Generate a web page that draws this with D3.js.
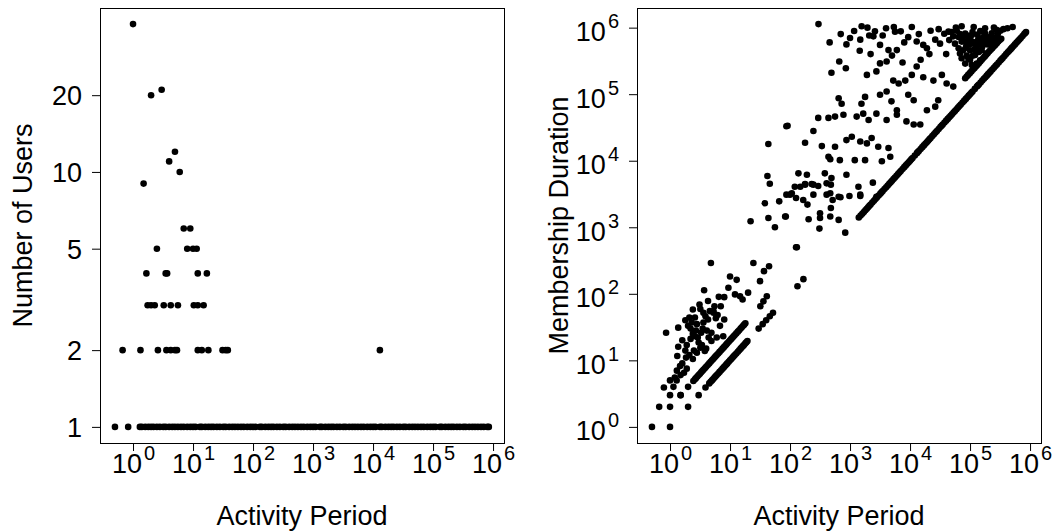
<!DOCTYPE html>
<html>
<head>
<meta charset="utf-8">
<script src="https://cdn.jsdelivr.net/npm/d3@7"></script>
<style>
  body { margin: 0; background: #fff; }
  text { font-family: "Liberation Sans", Arial, sans-serif; }
</style>
</head>
<body>
<div id="chart"></div>
<script>
// ---------- data ----------
// left panel: activity period -> number of users (users > 1)
var multiPeriods = [1, 2, 3, 5, 4, 6, 1.5,
  7, 9,
  2.5, 8, 10, 11.5,
  1.67, 3.5, 3.7, 12, 17,
  1.75, 2, 2.3, 3.25, 4.25, 5.6, 10.3, 12, 15,
  0.67, 1.33, 2.6, 3.6, 4.25, 5, 5.4, 12, 14, 18, 31, 35, 38, 13000];
var multiCounts = [38, 20, 21, 12, 11, 10, 9,
  6, 6,
  5, 5, 5, 5,
  4, 4, 4, 4, 4,
  3, 3, 3, 3, 3, 3, 3, 3, 3,
  2, 2, 2, 2, 2, 2, 2, 2, 2, 2, 2, 2, 2, 2];

// activity periods that had exactly one user
var singlePeriods = [0.5, 0.83,
  1.3, 1.4, 1.6, 1.8, 2, 2.2, 2.5, 2.8, 3.2, 3.5, 4, 4.5, 5, 5.6, 6.3, 7, 8, 9,
  10, 11, 13, 14, 16, 18, 20, 22, 25, 28, 32, 35, 40, 45, 50, 56, 63, 70, 80, 90,
  100, 110, 130, 140, 160, 180, 200, 220, 250, 280, 320, 350, 400, 450, 500, 560, 630, 700, 800, 900,
  1000, 1100, 1300, 1400, 1600, 1800, 2000, 2200, 2500, 2800, 3200, 3500, 4000, 4500, 5000, 5600, 6300, 7000, 8000, 9000,
  10000, 11000, 13000, 14000, 16000, 18000, 20000, 22000, 25000, 28000, 32000, 35000, 40000, 45000, 50000, 56000, 63000, 70000, 80000, 90000,
  100000, 110000, 130000, 140000, 160000, 180000, 200000, 220000, 250000, 280000, 320000, 350000, 400000, 450000, 500000, 560000, 630000, 700000, 800000, 850000];

var userTicks = [1, 2, 5, 10, 20];
var decadeTicks = [1, 10, 100, 1000, 10000, 100000, 1000000];

// right panel: [activity period, membership duration]
var lowerCluster = [[0.5,1],[1,1],[0.66,2],[1,2],[2,2],[0.86,26],[1,3],[1.5,3],[0.79,3.9],[1,5],[1.29,5],[1.14,4],
  [1.32,11.6],[1.37,16],[1.85,11],[1.47,8.2],[1.71,6.5],[1.37,31],[2,33],[2.6,23],[3,18.5],[3.2,15.5],[3.8,13.8],
  [3.1,69],[3.2,59],[3.6,52],[2.6,44],[2.1,44],[2.3,37],[2.8,35],[3.6,37],[4.3,41],[4.9,26],[3.7,113],[4.8,290],
  [4.3,78],[5.3,52],[5.3,55],[4.9,19.5],[6,22],[7.7,23],[6.8,33],[8,41],[8,89],[9.4,123],[10,182],[12.9,162],
  [12.1,98],[14.7,92],[16.2,82],[20,104],[24.5,290],[31.6,155],[36.8,219],[44.7,260],
  [1.6,20],[1.9,17],[2.2,21],[2.4,25],[2.7,28],[2.9,22],[3.3,26],[3.5,30],[2.5,14],[2.8,13],[3.4,17],[4,15],
  [1.8,14],[2.1,12],[2.4,10.5],[1.6,9],[1.9,7.5],[1.5,6],[1.3,7],[1.2,5.5],[2.2,30],[4.4,22],[4.1,28],[3.9,46],
  [4.6,55],[5.8,43],[6.2,48],[5.5,65],[6.5,90],[7,65],[1.8,40],[2.4,58]];

var middleCluster = [[22,1230],[38,2300],[66,2450],[85,1450],[43.6,1380],[56,1000],[130,500],[133,130],[167,166],[126,500],
  [43.5,17800],[42,5900],[46,4500],[91,33500],
  [120,4070],[178,4470],[229,4470],[295,4170],[407,4570],[479,4370],
  [87,3090],[107,3240],[126,2750],[166,2570],[195,2190],[245,3090],[407,3090],[513,2570],[692,2820],[977,2950],[1480,2950],[2400,4680],
  [83,1450],[204,1320],[316,1620],[316,1380],[468,1450],[646,1290],[832,830],[309,955],[479,1950],
  [138,6460],[191,6170],[245,4370],[380,6460],[490,5500],[871,6170],[1380,4070],[148,4070],[178,4370],
  [100,3090],[468,3240],[646,2880],[1480,3090],[2750,2880]];

var upperCluster = [[298,1130000],[1560,1050000],[1950,1000000],[1170,890000],[2090,760000],[2450,740000],
  [3980,980000],[5370,1020000],[5620,870000],[10700,1020000],[72400,1050000],[115000,1020000],[148000,890000],
  [178000,980000],[275000,930000],[513000,1020000],
  [457,600000],[871,560000],[1480,660000],[1450,450000],[3160,550000],[4370,460000],[6030,460000],
  [9330,720000],[12900,620000],[16600,550000],[19100,490000],[26300,660000],[31600,575000],[37200,810000],[43700,870000],[52500,740000],
  [661,310000],[851,245000],[490,210000],[1910,195000],[2750,220000],[3160,290000],[4070,310000],
  [5250,160000],[6460,145000],[8320,160000],[10700,195000],[12900,260000],[16600,180000],[24500,160000],[33900,195000],[40700,145000],[52500,130000],
  [646,87000],[724,72000],[1780,91000],[1550,72000],[3160,98000],[4070,110000],[4900,78000],[6030,57500],
  [9330,98000],[11500,81000],[19100,57500],[26300,65000],[29500,81000],
  [295,44000],[437,44000],[562,46000],[776,49000],[1290,46000],[1660,51000],
  [2040,41000],[2750,51000],[4070,41000],[6030,49000],[8710,39000],[11500,35000],[14800,35000],
  [87,33000],[245,28000],[178,18600],[339,16600],
  [562,16200],[871,20400],[1070,22900],[1480,19500],[1910,18200],[2290,21900],[2950,16200],[4370,15500],
  [437,11500],[468,10500],[676,10200],[1200,10200],[1780,10200],[3390,9800],[4680,11500],
  [64500,725000],[72400,617000],[83000,813000],[87600,550000],[93700,661000],[100000,457000],[107000,776000],
  [114000,575000],[121000,389000],[129000,513000],[138000,692000],[147000,324000],[156000,457000],[166000,617000],
  [178000,813000],[190000,407000],[72400,347000],[83000,288000],[67900,407000],[93700,347000],[107000,275000],
  [129000,288000],[147000,575000],[166000,725000],[204000,575000],[214000,725000],[245000,575000],[77000,457000],
  [64500,490000],[56200,575000],
  [60000,900000],[68000,800000],[75000,700000],[80000,620000],[85000,500000],[90000,760000],[97000,560000],
  [103000,640000],[110000,860000],[118000,470000],[125000,610000],[133000,790000],[140000,430000],[150000,660000],
  [160000,520000],[170000,880000],[185000,680000],[195000,560000],[225000,650000],[230000,820000],[260000,700000],
  [290000,800000],[320000,900000],[360000,950000],[420000,980000],[250000,1000000],[58000,1000000],[49000,860000],
  [45000,650000],[88000,380000],[100000,330000],[112000,380000],
  [700,800000],[1000,700000],[2600,880000],[3500,760000],[7000,880000],[8000,600000],[14000,800000],[22000,900000],
  [30000,950000],[2200,400000],[5000,380000],[7500,300000],[15000,330000],[21000,400000],[40000,400000]];

// points lying on duration = period
var equalLine = [[3,3],[3.9,3.9],[4.5,4.5],[4.75,4.75],[5,5],[5.25,5.25],[5.5,5.5],[5.75,5.75],[6,6],[6.35,6.35],
  [6.7,6.7],[7.1,7.1],[7.5,7.5],[7.9,7.9],[8.3,8.3],[8.65,8.65],[9,9],[9.5,9.5],[10,10],[10.5,10.5],[11,11],
  [11.5,11.5],[12,12],[12.7,12.7],[13.5,13.5],[14.2,14.2],[15,15],[15.7,15.7],[16.5,16.5],[17.2,17.2],[18,18],
  [18.7,18.7],[19.5,19.5],[30,30],[35,35],[40,40],[46,46],[52,52],
  [1400,1400],[1500,1500],[1600,1600],[1700,1700],[1800,1800],[1900,1900],[2000,2000],[2100,2100],[2200,2200],
  [2350,2350],[2500,2500],[2650,2650],[2800,2800],[3000,3000],[3200,3200],[3350,3350],[3500,3500],[3750,3750],
  [4000,4000],[4250,4250],[4500,4500],[4750,4750],[5000,5000],[5300,5300],[5600,5600],[5950,5950],[6300,6300],
  [6650,6650],[7000,7000],[7500,7500],[8000,8000],[8500,8500],[9000,9000],[9500,9500],
  [10000,10000],[10500,10500],[11000,11000],[12000,12000],[13000,13000],[13500,13500],[14000,14000],[15000,15000],
  [16000,16000],[17000,17000],[18000,18000],[19000,19000],[20000,20000],[21000,21000],[22000,22000],[23500,23500],
  [25000,25000],[26500,26500],[28000,28000],[30000,30000],[32000,32000],[33500,33500],[35000,35000],[37500,37500],
  [40000,40000],[42500,42500],[45000,45000],[47500,47500],[50000,50000],[53000,53000],[56000,56000],[59500,59500],
  [63000,63000],[66500,66500],[70000,70000],[75000,75000],[80000,80000],[85000,85000],[90000,90000],[95000,95000],
  [100000,100000],[105000,105000],[110000,110000],[120000,120000],[130000,130000],[135000,135000],[140000,140000],
  [150000,150000],[160000,160000],[170000,170000],[180000,180000],[190000,190000],[200000,200000],[210000,210000],
  [220000,220000],[235000,235000],[250000,250000],[265000,265000],[280000,280000],[300000,300000],[320000,320000],
  [335000,335000],[350000,350000],[375000,375000],[400000,400000],[425000,425000],[450000,450000],[475000,475000],
  [500000,500000],[530000,530000],[560000,560000],[595000,595000],[630000,630000],[665000,665000],[700000,700000],
  [750000,750000],[800000,800000],[830000,830000],[857000,857000]];

// points lying on duration = 2 x period
var doubleLine = [[1.5,3],[2,4],[2.45,4.9],[2.6,5.2],[2.7,5.4],[2.85,5.7],[3,6],[3.15,6.3],[3.3,6.6],[3.45,6.9],
  [3.6,7.2],[3.8,7.6],[4,8],[4.25,8.5],[4.5,9],[4.75,9.5],[5,10],[5.25,10.5],[5.5,11],[5.75,11.5],[6,12],
  [6.35,12.7],[6.7,13.4],[7.1,14.2],[7.5,15],[7.9,15.8],[8.3,16.6],[8.65,17.3],[9,18],[9.5,19],[10,20],[10.5,21],
  [11,22],[11.5,23],[12,24],[12.7,25.4],[13.5,27],[14.2,28.4],[15,30],[15.7,31.4],[16.5,33],[17.2,34.4],[18,36],
  [32,65],[36,77],[41,92],
  [83000,174000],[88000,184000],[93000,195000],[99000,207000],[105000,220000],[111000,232000],[118000,245000],
  [125000,260000],[132000,275000],[140000,292000],[148000,310000],[157000,330000],[166000,350000],[176000,370000],
  [186000,390000],[197000,415000],[209000,440000],[221000,465000],[234000,490000],[248000,520000],[263000,550000],
  [279000,585000],[295000,620000],[313000,650000],[331000,680000]];

// ---------- layout ----------
var W = 1054, H = 531;
var plotTop = 8, plotBottom = 443;
var panels = [{left: 100, right: 504}, {left: 637, right: 1041}];
var fontSize = 27;

var svg = d3.select("#chart").append("svg")
  .attr("width", W).attr("height", H);

// R style: log range padded by 4% each side
function rLogDomain(vals) {
  var e = d3.extent(vals);
  var a = Math.log10(e[0]), b = Math.log10(e[1]), pad = 0.04 * (b - a);
  return [Math.pow(10, a - pad), Math.pow(10, b + pad)];
}

var allRight = lowerCluster.concat(middleCluster, upperCluster, equalLine, doubleLine);
var xDomain = rLogDomain(multiPeriods.concat(singlePeriods, allRight.map(function(d) { return d[0]; })));

function styleAxis(g) {
  g.select(".domain").remove();
  g.selectAll(".tick line").attr("stroke", "#000");
  g.selectAll("text").attr("font-size", fontSize).attr("fill", "#000")
    .attr("font-family", "'Liberation Sans', Arial, sans-serif");
}

function powerLabels(g) {
  g.selectAll(".tick text").each(function(d) {
    var t = d3.select(this).text("");
    t.append("tspan").text("10");
    t.append("tspan").attr("font-size", 20).attr("dy", -13).attr("dx", 2)
      .text(Math.round(Math.log10(d)));
  });
}

function drawPanel(p, yScale, pts, yTicks, yPow, yTitle, titleX) {
  var x = d3.scaleLog().domain(xDomain).range([p.left, p.right]);
  var g = svg.append("g");

  // x axis
  var xa = g.append("g").attr("transform", "translate(0," + plotBottom + ")")
    .call(d3.axisBottom(x).tickValues(decadeTicks).tickSize(8).tickPadding(3).tickFormat(function() { return ""; }));
  styleAxis(xa);
  powerLabels(xa);

  // y axis
  var ya = g.append("g").attr("transform", "translate(" + p.left + ",0)")
    .call(d3.axisLeft(yScale).tickValues(yTicks).tickSize(8).tickPadding(10)
      .tickFormat(function(d) { return yPow ? "" : d; }));
  styleAxis(ya);
  if (yPow) {
    powerLabels(ya);
    ya.selectAll(".tick text").attr("dy", 13);
  } else {
    ya.selectAll(".tick text").attr("dy", "0.36em");
  }

  // points
  g.append("g").selectAll("circle").data(pts).enter().append("circle")
    .attr("cx", function(d) { return x(d[0]); })
    .attr("cy", function(d) { return yScale(d[1]); })
    .attr("r", 3.3)
    .attr("fill", "#000");

  // box
  g.append("rect")
    .attr("x", p.left + 0.5).attr("y", plotTop + 0.5)
    .attr("width", p.right - p.left).attr("height", plotBottom - plotTop)
    .attr("fill", "none").attr("stroke", "#000").attr("stroke-width", 1);

  // titles
  g.append("text")
    .attr("x", (p.left + p.right) / 2).attr("y", 525)
    .attr("text-anchor", "middle").attr("font-size", fontSize)
    .text("Activity Period");
  g.append("text")
    .attr("transform", "translate(" + titleX + "," + ((plotTop + plotBottom) / 2) + ") rotate(-90)")
    .attr("text-anchor", "middle").attr("font-size", fontSize)
    .text(yTitle);
}

// left panel
var leftPts = singlePeriods.map(function(v) { return [v, 1]; })
  .concat(multiPeriods.map(function(v, i) { return [v, multiCounts[i]]; }));
var yLeft = d3.scaleLog().domain(rLogDomain(leftPts.map(function(d) { return d[1]; }))).range([plotBottom, plotTop]);
drawPanel(panels[0], yLeft, leftPts, userTicks, false, "Number of Users", 32);

// right panel
var yRight = d3.scaleLog().domain(rLogDomain(allRight.map(function(d) { return d[1]; }))).range([plotBottom, plotTop]);
drawPanel(panels[1], yRight, allRight, decadeTicks, true, "Membership Duration", 568);
</script>
</body>
</html>
